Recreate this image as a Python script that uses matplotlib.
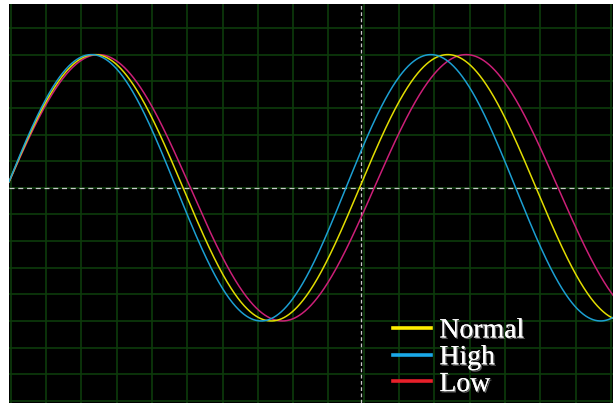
import numpy as np
import matplotlib
matplotlib.use("Agg")
import matplotlib.pyplot as plt
from matplotlib.lines import Line2D
import matplotlib.patheffects as pe

# ---- data (grid divisions as units) ----
signal_names = ["Normal", "High", "Low"]
freq_scale = [1.0, 1.04, 0.96]          # relative frequency of each signal
amplitude_div = 5.0                      # peak amplitude in vertical divisions
period_div = 10.0                        # period of the Normal signal in horizontal divisions
start_div = -0.12                        # common rising zero-crossing
marker_time_div = 9.92                   # vertical dashed marker

# ---- styles ----
line_colors = {"Normal": "#e2dc00", "High": "#1c9fd2", "Low": "#cc1f78"}
legend_colors = {"Normal": "#ffee00", "High": "#1aa8e8", "Low": "#e8202a"}
draw_order = ["Low", "Normal", "High"]

fig = plt.figure(figsize=(6.13, 4.03), dpi=100, facecolor="white")
ax = fig.add_axes([9 / 613, 0, 604 / 613, 399 / 403])
ax.set_facecolor("black")
ax.set_xlim(-0.05, 17.06)
ax.set_ylim(-8.08, 6.9)

ax.set_xticks(np.arange(0, 18))
ax.set_yticks(np.arange(-8, 7))
ax.tick_params(length=0, labelbottom=False, labelleft=False)
ax.grid(True, color="#0d3b0b", linewidth=1.2)
ax.set_axisbelow(True)
for s in ax.spines.values():
    s.set_visible(False)

ax.axhline(0, color="#c8c8c8", linewidth=0.9, dashes=(4, 3), zorder=1.5)
ax.axvline(marker_time_div, color="#c8c8c8", linewidth=0.9, dashes=(3, 2), zorder=1.5)

t = np.linspace(-0.05, 17.06, 3000)
for name in draw_order:
    f = freq_scale[signal_names.index(name)]
    y = amplitude_div * np.sin(2 * np.pi * f * (t - start_div) / period_div)
    ax.plot(t, y, color=line_colors[name], linewidth=1.1, zorder=3)

handles = [Line2D([], [], color=legend_colors[n], linewidth=2.6) for n in signal_names]
leg = ax.legend(handles, signal_names, loc="upper left",
                bbox_to_anchor=((393 - 9) / 604, (403 - 318) / 399),
                frameon=False, borderpad=0, borderaxespad=0,
                handlelength=1.37, handletextpad=0.3, labelspacing=0.05,
                prop={"family": "Liberation Serif", "size": 20})
for txt in leg.get_texts():
    txt.set_color("white")
    txt.set_path_effects([pe.withSimplePatchShadow(offset=(1, -1), shadow_rgbFace="#707070", alpha=0.9),
                          pe.Normal()])

fig.savefig("out.png", dpi=100, facecolor="white")
